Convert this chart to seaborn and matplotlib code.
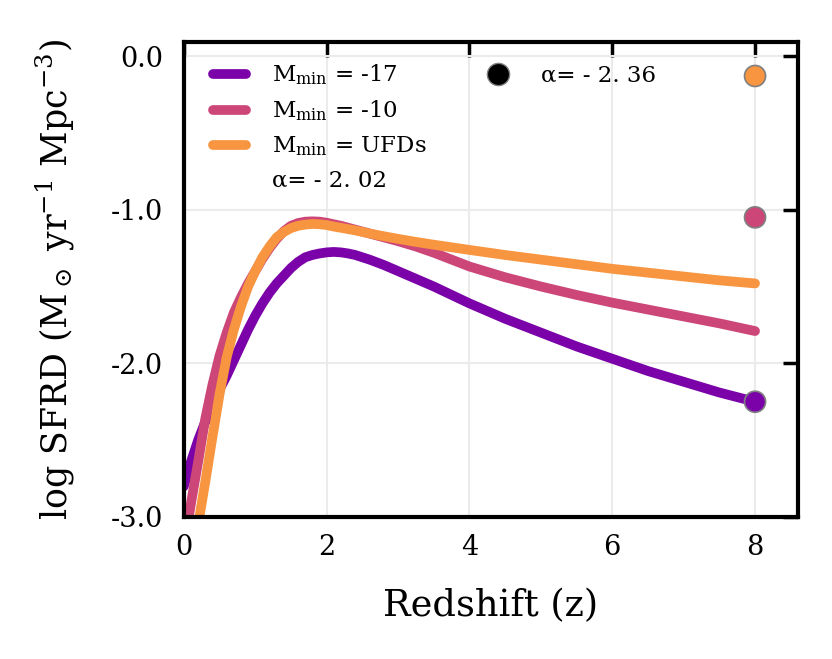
import numpy as np
import pandas as pd
import matplotlib
matplotlib.use("Agg")
import matplotlib.pyplot as plt
from matplotlib.lines import Line2D
from matplotlib.ticker import FormatStrFormatter
import seaborn as sns

# ---- data ----
z_m17 = [0.0, 0.1, 0.2, 0.3, 0.4, 0.5, 0.6, 0.7, 0.8, 0.9, 1.0, 1.1, 1.2, 1.3, 1.4, 1.5, 1.6, 1.7,
         1.8, 1.9, 2.0, 2.1, 2.2, 2.3, 2.4, 2.5, 2.6, 2.8, 3.0, 3.25, 3.5, 3.75, 4.0, 4.5, 5.0,
         5.5, 6.0, 6.5, 7.0, 7.5, 8.0]
sfrd_m17 = [-2.80, -2.64, -2.50, -2.38, -2.27, -2.17, -2.08, -1.98, -1.88, -1.78, -1.69, -1.61,
            -1.54, -1.48, -1.43, -1.38, -1.34, -1.31, -1.295, -1.285, -1.278, -1.275, -1.278,
            -1.285, -1.295, -1.31, -1.325, -1.36, -1.40, -1.45, -1.50, -1.555, -1.61, -1.71,
            -1.80, -1.89, -1.97, -2.05, -2.12, -2.19, -2.25]

z_m10 = [0.0, 0.1, 0.2, 0.3, 0.4, 0.5, 0.6, 0.7, 0.8, 0.9, 1.0, 1.1, 1.2, 1.3, 1.4, 1.5, 1.6, 1.7,
         1.8, 1.9, 2.0, 2.1, 2.2, 2.4, 2.6, 2.8, 3.0, 3.25, 3.5, 3.75, 4.0, 4.5, 5.0, 5.5, 6.0,
         6.5, 7.0, 7.5, 8.0]
sfrd_m10 = [-3.20, -2.91, -2.64, -2.36, -2.14, -1.95, -1.80, -1.67, -1.57, -1.48, -1.40, -1.32,
            -1.25, -1.19, -1.14, -1.105, -1.087, -1.078, -1.076, -1.078, -1.085, -1.095, -1.105,
            -1.13, -1.155, -1.18, -1.205, -1.24, -1.28, -1.325, -1.37, -1.44, -1.50, -1.555,
            -1.605, -1.65, -1.695, -1.74, -1.79]

z_ufd = [0.0, 0.1, 0.2, 0.3, 0.4, 0.5, 0.6, 0.7, 0.8, 0.9, 1.0, 1.1, 1.2, 1.3, 1.4, 1.5, 1.6, 1.7,
         1.8, 1.9, 2.0, 2.1, 2.2, 2.4, 2.6, 2.8, 3.0, 3.25, 3.5, 3.75, 4.0, 4.5, 5.0, 5.5, 6.0,
         6.5, 7.0, 7.5, 8.0]
sfrd_ufd = [-3.62, -3.33, -3.05, -2.77, -2.48, -2.20, -1.96, -1.78, -1.63, -1.50, -1.40, -1.31,
            -1.24, -1.18, -1.145, -1.12, -1.105, -1.097, -1.093, -1.095, -1.10, -1.11, -1.118,
            -1.135, -1.155, -1.173, -1.19, -1.21, -1.228, -1.245, -1.262, -1.295, -1.325,
            -1.355, -1.385, -1.41, -1.435, -1.46, -1.48]

series_labels = [r'M$_{\rm min}$ = -17', r'M$_{\rm min}$ = -10', r'M$_{\rm min}$ = UFDs']
colors = ['#7a02a8', '#cc4778', '#f89540']

pt_z = [8.0, 8.0, 8.0]
pt_val = [-2.25, -1.05, -0.13]

alpha_labels = ['α= - 2. 02', 'α= - 2. 36']

xticks = [0, 2, 4, 6, 8]
yticks = [0.0, -1.0, -2.0, -3.0]

df = pd.DataFrame({
    'z': z_m17 + z_m10 + z_ufd,
    'sfrd': sfrd_m17 + sfrd_m10 + sfrd_ufd,
    'model': ([series_labels[0]] * len(z_m17) + [series_labels[1]] * len(z_m10)
              + [series_labels[2]] * len(z_ufd)),
})
pts = pd.DataFrame({'z': pt_z, 'sfrd': pt_val, 'model': series_labels})

sns.set_style('white')
plt.rcParams['font.family'] = ['DejaVu Serif']
plt.rcParams['mathtext.fontset'] = 'dejavuserif'
plt.rcParams['axes.unicode_minus'] = False
for k in ['text.color', 'axes.labelcolor', 'xtick.color', 'ytick.color']:
    plt.rcParams[k] = 'black'

fig = plt.figure(figsize=(8.32, 6.59), dpi=100)
ax = fig.add_axes([0.221, 0.2155, 0.738, 0.7205])

sns.lineplot(data=df, x='z', y='sfrd', hue='model', palette=colors, linewidth=7,
             ax=ax, legend=False, solid_capstyle='round', solid_joinstyle='round', sort=False)
sns.scatterplot(data=pts, x='z', y='sfrd', hue='model', palette=colors, s=230,
                edgecolor='gray', linewidth=1.2, ax=ax, legend=False, zorder=5)

ax.set_xlim(0, 8.6)
ax.set_ylim(-3.0, 0.09)
ax.set_xticks(xticks)
ax.set_yticks(yticks)
ax.yaxis.set_major_formatter(FormatStrFormatter('%.1f'))
ax.grid(True, color='#ebebeb', linewidth=1.5)
ax.set_axisbelow(True)
for sp in ax.spines.values():
    sp.set_linewidth(3)
    sp.set_color('black')
ax.tick_params(direction='in', top=True, right=True, length=11, width=2.5, labelsize=19.5)
ax.tick_params(axis='x', pad=12)
ax.tick_params(axis='y', pad=15)
ax.set_xlabel('Redshift (z)', fontsize=26.5, labelpad=20)
ax.set_ylabel(r'log SFRD (M$_\odot$ yr$^{\mathrm{-1}}$ Mpc$^{\mathrm{-3}}$)', fontsize=25, labelpad=24)

handles = [Line2D([], [], color=c, linewidth=7, solid_capstyle='round') for c in colors]
labels = list(series_labels)
handles.append(Line2D([], [], color='none'))
labels.append(alpha_labels[0])
handles.append(Line2D([], [], color='none', marker='o', markerfacecolor='black',
                      markeredgecolor='gray', markersize=16, linestyle='none'))
labels.append(alpha_labels[1])
for _ in range(3):
    handles.append(Line2D([], [], color='none'))
    labels.append(' ')
ax.legend(handles, labels, ncol=2, loc='upper left', bbox_to_anchor=(0.047, 0.957),
          frameon=False, fontsize=16.5, handlelength=1.45, handletextpad=1.13,
          columnspacing=2.4, labelspacing=0.5, borderaxespad=0.0, borderpad=0.0)

fig.savefig('out.png', dpi=100)
